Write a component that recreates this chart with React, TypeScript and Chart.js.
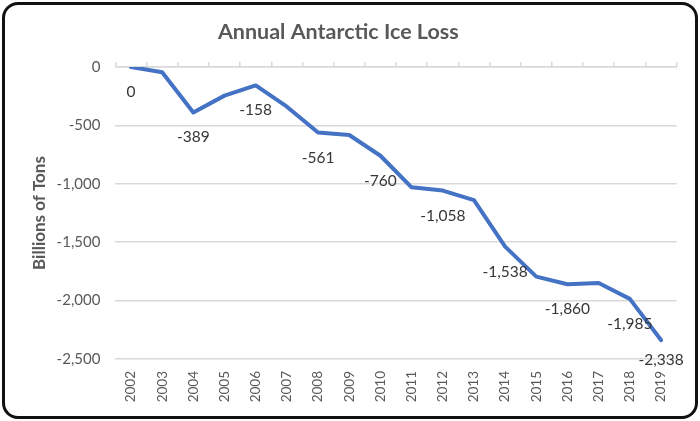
import React, { useEffect, useRef } from 'react';
import { Chart, registerables } from 'chart.js';

Chart.register(...registerables);

// Cumulative Antarctic ice mass change, billions of tons, relative to 2002
const years = [
  '2002', '2003', '2004', '2005', '2006', '2007', '2008', '2009', '2010',
  '2011', '2012', '2013', '2014', '2015', '2016', '2017', '2018', '2019',
];
const iceLoss = [
  0, -45, -389, -245, -158, -340, -561, -582, -760,
  -1030, -1058, -1140, -1538, -1795, -1860, -1850, -1985, -2338,
];
// Years whose value is printed under the line
const labeledYears = ['2002', '2004', '2006', '2008', '2010', '2012', '2014', '2016', '2018', '2019'];

const yMin = -2500;
const yMax = 0;
const yStep = 500;

const fmt = (v: number) => v.toLocaleString('en-US');

const FONT = 'Lato, "Open Sans", "Noto Sans", sans-serif';
const GRAY = '#595959';
const GRID = '#d9d9d9';

const valueLabels = {
  id: 'valueLabels',
  afterDatasetsDraw(chart: any) {
    const { ctx, chartArea } = chart;
    const meta = chart.getDatasetMeta(0);
    ctx.save();
    ctx.font = `15.5px ${FONT}`;
    ctx.fillStyle = '#363636';
    ctx.textAlign = 'center';
    ctx.textBaseline = 'middle';
    years.forEach((yr, i) => {
      if (!labeledYears.includes(yr)) return;
      const pt = meta.data[i];
      const y = Math.min(pt.y + 25, chartArea.bottom + 1);
      ctx.fillText(fmt(iceLoss[i]), pt.x, y);
    });
    ctx.restore();
  },
};

export default function App() {
  const canvasRef = useRef<HTMLCanvasElement | null>(null);

  useEffect(() => {
    if (!canvasRef.current) return;
    const chart = new Chart(canvasRef.current, {
      type: 'line',
      data: {
        labels: years,
        datasets: [
          {
            data: iceLoss,
            borderColor: '#4472C4',
            borderWidth: 4,
            borderJoinStyle: 'round',
            borderCapStyle: 'round',
            pointRadius: 0,
            fill: false,
            tension: 0,
            xAxisID: 'x',
            yAxisID: 'y',
          },
        ],
      },
      options: {
        responsive: false,
        devicePixelRatio: 1,
        animation: false,
        layout: { padding: { left: 0, right: 23.4, top: 0, bottom: 0 } },
        plugins: {
          legend: { display: false },
          tooltip: { enabled: false },
          title: {
            display: true,
            text: 'Annual Antarctic Ice Loss',
            color: GRAY,
            font: { family: FONT, size: 21.5, weight: 'bold', lineHeight: 1.2 },
            padding: { top: 18.8, bottom: 17.4 },
          },
        },
        scales: {
          x: {
            type: 'category',
            position: 'bottom',
            offset: true,
            grid: { display: false, drawTicks: false },
            border: { display: false },
            ticks: {
              color: GRAY,
              font: { family: FONT, size: 13.5 },
              minRotation: 90,
              maxRotation: 90,
              padding: 12,
              autoSkip: false,
            },
            afterFit: (s: any) => {
              s.height = 62;
            },
          },
          xTop: {
            type: 'category',
            position: 'top',
            labels: years,
            offset: true,
            grid: {
              offset: true,
              drawOnChartArea: false,
              drawTicks: true,
              tickLength: 5,
              color: GRID,
              lineWidth: 1.5,
            },
            border: { display: true, color: GRID, width: 1.5 },
            ticks: { display: false },
            afterFit: (s: any) => {
              s.height = 5;
            },
          },
          y: {
            min: yMin,
            max: yMax,
            ticks: {
              stepSize: yStep,
              color: GRAY,
              font: { family: FONT, size: 15 },
              padding: 15,
              callback: (v: any) => fmt(Number(v)),
            },
            grid: { color: GRID, lineWidth: 1.5, drawTicks: false },
            border: { display: false },
            title: {
              display: true,
              text: 'Billions of Tons',
              color: GRAY,
              font: { family: FONT, size: 17, weight: 'bold', lineHeight: 1.2 },
              padding: { top: 29.3, bottom: 0 },
            },
            afterFit: (s: any) => {
              s.width = 115.4;
            },
          },
        },
      },
      plugins: [valueLabels],
    } as any);
    return () => chart.destroy();
  }, []);

  return (
    <div
      style={{
        position: 'fixed',
        left: 0,
        top: 0,
        width: 700,
        height: 421,
        background: '#fff',
        overflow: 'hidden',
      }}
    >
      <canvas
        ref={canvasRef}
        width={700}
        height={421}
        style={{ display: 'block', width: 700, height: 421 }}
      />
      <div
        style={{
          position: 'absolute',
          left: 2,
          top: 2,
          width: 696,
          height: 417,
          boxSizing: 'border-box',
          border: '3px solid #111',
          borderRadius: 16,
          pointerEvents: 'none',
        }}
      />
    </div>
  );
}
